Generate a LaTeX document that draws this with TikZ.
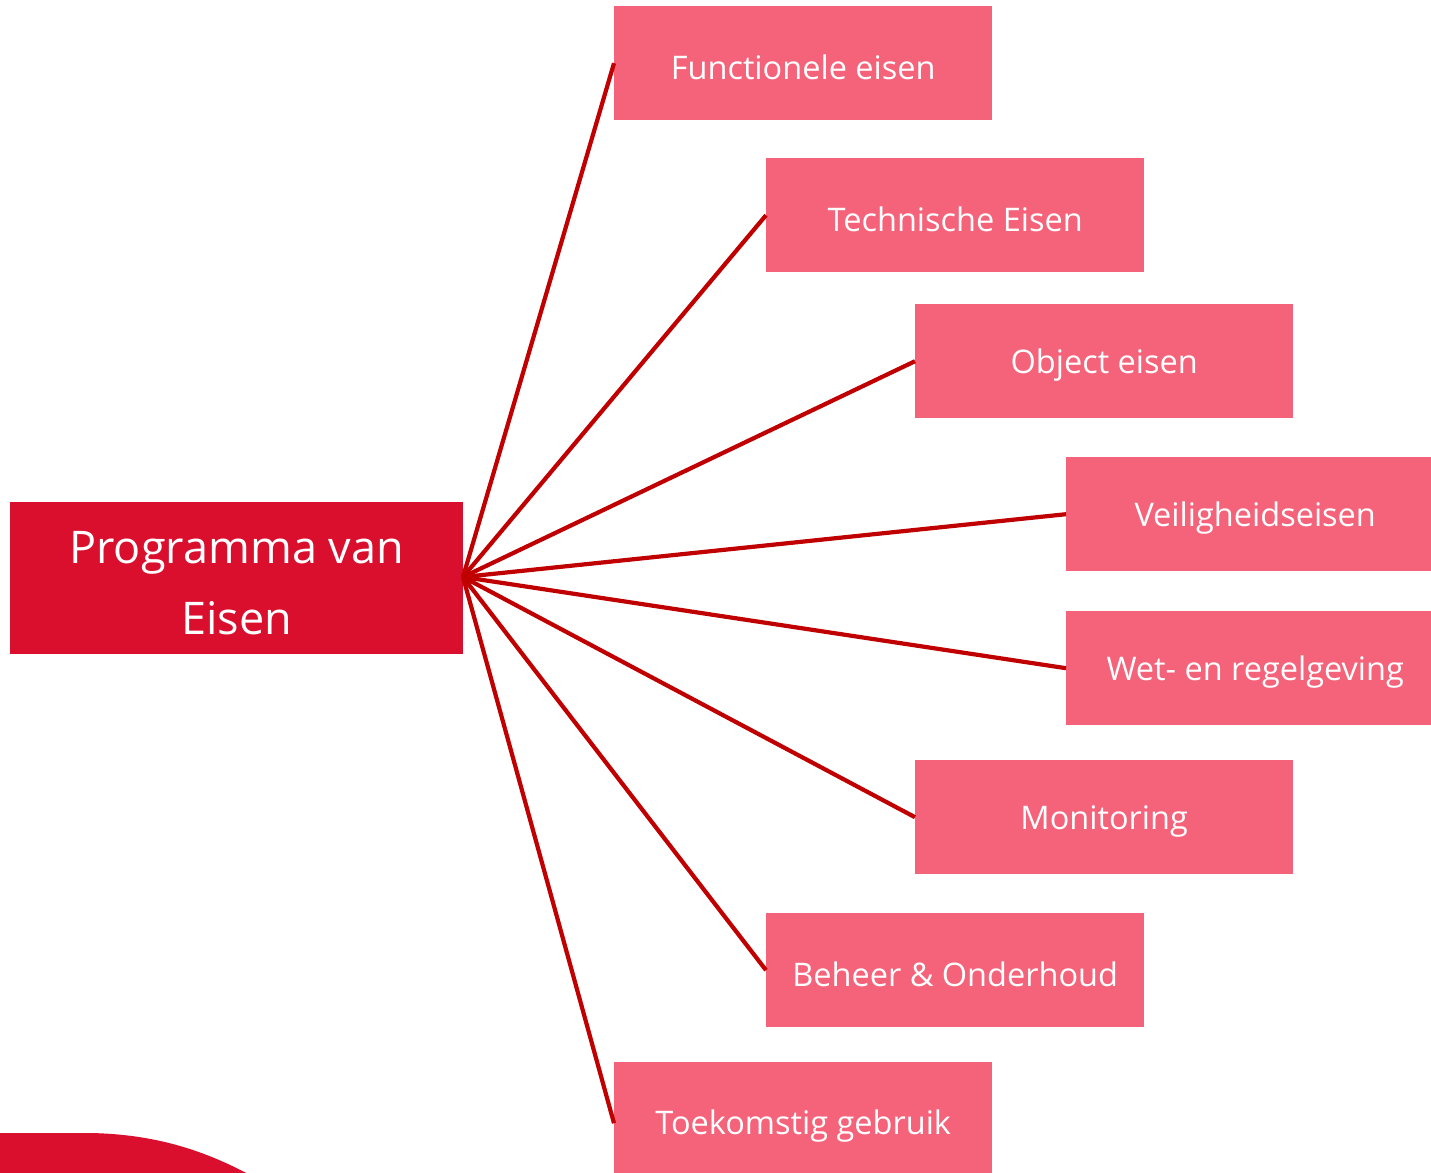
\documentclass[tikz,border=0pt]{standalone}
\usepackage{fontspec}
\setmainfont{Open Sans}
\definecolor{mainred}{HTML}{DA0E2D}
\definecolor{childpink}{HTML}{F4637A}
\definecolor{linered}{HTML}{C00000}
\newcommand\dn[2]{\raisebox{-#1pt}[\height][\depth]{#2}}
\begin{document}
\begin{tikzpicture}[x=1pt,y=-1pt,
  childbox/.style={fill=childpink,text=white,inner sep=0pt,minimum width=378pt,minimum height=114pt,font=\fontsize{32.5}{38}\selectfont,anchor=north west},
  mainbox/.style={fill=mainred,text=white,inner sep=0pt,minimum width=453pt,minimum height=152pt,font=\fontsize{45}{72}\selectfont,align=center,anchor=north west},
  conn/.style={draw=linered,line width=4.2pt}]
\useasboundingbox (0,0) rectangle (1431,1172);
\fill[mainred] (0,1133) -- (90,1133) .. controls (150,1134) and (200,1148) .. (250,1175) -- (0,1175) -- cycle;
\node[mainbox] (main) at (10,502) {\dn{5}{\shortstack{Programma van\\[25pt]Eisen}}};
\coordinate (hub) at (463,577);
\node[childbox] (c1) at (614,6) {\dn{4}{Functionele eisen}};
\node[childbox] (c2) at (766,158) {\dn{4}{Technische Eisen}};
\node[childbox] (c3) at (915,304) {\dn{4}{Object eisen}};
\node[childbox] (c4) at (1066,457) {\dn{4}{Veiligheidseisen}};
\node[childbox] (c5) at (1066,611) {\dn{4}{Wet- en regelgeving}};
\node[childbox] (c6) at (915,760) {\dn{4}{Monitoring}};
\node[childbox] (c7) at (766,913) {\dn{4}{Beheer \& Onderhoud}};
\node[childbox,minimum height=120pt] (c8) at (614,1062) {\dn{4}{Toekomstig gebruik}};
\foreach \c in {c1,c2,c3,c4,c5,c6,c7}{\draw[conn] (hub) -- (\c.west);}
\draw[conn] (hub) -- ([yshift=-1pt]c8.west);
\end{tikzpicture}
\end{document}
